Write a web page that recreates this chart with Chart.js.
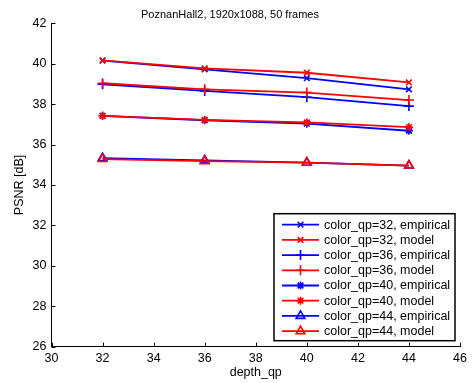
<!DOCTYPE html>
<html>
<head>
<meta charset="utf-8">
<script src="https://cdn.jsdelivr.net/npm/chart.js@4/dist/chart.umd.min.js"></script>
<style>
  html, body { margin: 0; padding: 0; background: #fff; }
  #wrap { width: 475px; height: 383px; }
</style>
</head>
<body>
<div id="wrap"><canvas id="psnrChart" width="475" height="383"></canvas></div>
<script>
// PSNR vs depth_qp, PoznanHall2

const depthQp = [32, 36, 40, 44];
const xTicks = [30, 32, 34, 36, 38, 40, 42, 44, 46];
const yTicks = [26, 28, 30, 32, 34, 36, 38, 40, 42];

const qp32Empirical = [40.15, 39.72, 39.28, 38.73];
const qp32Model     = [40.16, 39.77, 39.55, 39.07];
const qp36Empirical = [38.98, 38.65, 38.34, 37.90];
const qp36Model     = [39.03, 38.73, 38.57, 38.20];
const qp40Empirical = [37.42, 37.20, 37.03, 36.68];
const qp40Model     = [37.42, 37.22, 37.09, 36.86];
const qp44Empirical = [35.33, 35.22, 35.10, 34.96];
const qp44Model     = [35.28, 35.18, 35.10, 34.96];

const BLUE = '#0000ff';
const RED = '#ff0000';
const FONT = '"Liberation Sans", Arial, sans-serif';

function series(label, values, color, marker, radius, order) {
  return {
    label: label,
    data: values.map((v, i) => ({ x: depthQp[i], y: v })),
    borderColor: color,
    backgroundColor: color,
    pointBorderColor: color,
    pointBackgroundColor: marker === 'triangle' ? 'rgba(0,0,0,0)' : color,
    pointStyle: marker,
    pointRadius: radius,
    pointBorderWidth: 1.6,
    borderWidth: 1.8,
    tension: 0,
    fill: false,
    order: order // later series on top, like matlab
  };
}

const datasets = [
  series('color_qp=32, empirical', qp32Empirical, BLUE, 'crossRot', 4, 8),
  series('color_qp=32, model', qp32Model, RED, 'crossRot', 4, 7),
  series('color_qp=36, empirical', qp36Empirical, BLUE, 'cross', 5, 6),
  series('color_qp=36, model', qp36Model, RED, 'cross', 5, 5),
  series('color_qp=40, empirical', qp40Empirical, BLUE, 'star', 4, 4),
  series('color_qp=40, model', qp40Model, RED, 'star', 4, 3),
  series('color_qp=44, empirical', qp44Empirical, BLUE, 'triangle', 5, 2),
  series('color_qp=44, model', qp44Model, RED, 'triangle', 5, 1)
];

// inward ticks like matlab, on the left and bottom axes only
const inwardTicks = {
  id: 'inwardTicks',
  afterDraw(chart) {
    const { ctx, chartArea, scales } = chart;
    ctx.save();
    ctx.strokeStyle = '#000';
    ctx.lineWidth = 1;
    ctx.beginPath();
    xTicks.forEach(v => {
      const px = Math.round(scales.x.getPixelForValue(v)) + 0.5;
      ctx.moveTo(px, chartArea.bottom);
      ctx.lineTo(px, chartArea.bottom - 4);
    });
    yTicks.forEach(v => {
      const py = Math.round(scales.y.getPixelForValue(v)) + 0.5;
      ctx.moveTo(chartArea.left, py);
      ctx.lineTo(chartArea.left + 4, py);
    });
    ctx.stroke();
    ctx.restore();
  }
};

// legend box inside the plot, bottom right
const boxLegend = {
  id: 'boxLegend',
  afterDraw(chart) {
    const { ctx, chartArea } = chart;
    const right = chartArea.right - 5;
    const bottom = chartArea.bottom - 6;
    const w = 181, h = 127;
    const left = right - w, top = bottom - h;
    const rowH = 15.2;
    ctx.save();
    ctx.fillStyle = '#fff';
    ctx.fillRect(left, top, w, h);
    ctx.strokeStyle = '#000';
    ctx.lineWidth = 1.5;
    ctx.strokeRect(left, top, w, h);
    ctx.font = '12.5px ' + FONT;
    ctx.textBaseline = 'middle';
    chart.data.datasets.forEach((ds, i) => {
      const y = top + 11 + i * rowH;
      ctx.strokeStyle = ds.borderColor;
      ctx.lineWidth = 1.8;
      ctx.beginPath();
      ctx.moveTo(left + 8, y);
      ctx.lineTo(left + 45, y);
      ctx.stroke();
      ctx.lineWidth = ds.pointBorderWidth;
      ctx.fillStyle = ds.pointBackgroundColor;
      Chart.helpers.drawPoint(ctx, {
        pointStyle: ds.pointStyle,
        radius: ds.pointRadius,
        rotation: 0,
        borderWidth: ds.pointBorderWidth
      }, left + 26.5, y);
      ctx.fillStyle = '#000';
      ctx.fillText(ds.label, left + 50, y + 0.5);
    });
    ctx.restore();
  }
};

new Chart(document.getElementById('psnrChart'), {
  type: 'line',
  data: { datasets: datasets },
  options: {
    responsive: false,
    animation: false,
    layout: { padding: { right: 15, top: 0, left: 0, bottom: 0 } },
    plugins: {
      legend: { display: false },
      tooltip: { enabled: false },
      title: {
        display: true,
        text: 'PoznanHall2, 1920x1088, 50 frames',
        color: '#000',
        font: { family: FONT, size: 11, weight: 'normal' },
        padding: { top: 8, bottom: 2 }
      }
    },
    scales: {
      x: {
        type: 'linear',
        min: 30,
        max: 46,
        afterBuildTicks: s => { s.ticks = xTicks.map(v => ({ value: v })); },
        afterFit: s => { s.height = 36.3; },
        grid: { display: false, drawTicks: false },
        border: { display: true, color: '#000', width: 1 },
        ticks: {
          color: '#000',
          padding: 4,
          maxRotation: 0,
          font: { family: FONT, size: 12.5 }
        },
        title: {
          display: true,
          text: 'depth_qp',
          color: '#000',
          font: { family: FONT, size: 12.5 },
          padding: { top: 0, bottom: 3 }
        }
      },
      y: {
        type: 'linear',
        min: 26,
        max: 42,
        afterBuildTicks: s => { s.ticks = yTicks.map(v => ({ value: v })); },
        afterFit: s => { s.width = 51.5; },
        grid: { display: false, drawTicks: false },
        border: { display: true, color: '#000', width: 1 },
        ticks: {
          color: '#000',
          padding: 5,
          font: { family: FONT, size: 12.5 }
        },
        title: {
          display: true,
          text: 'PSNR [dB]',
          color: '#000',
          font: { family: FONT, size: 12.5 },
          padding: { top: 12, bottom: 0 }
        }
      }
    }
  },
  plugins: [inwardTicks, boxLegend]
});
</script>
</body>
</html>
